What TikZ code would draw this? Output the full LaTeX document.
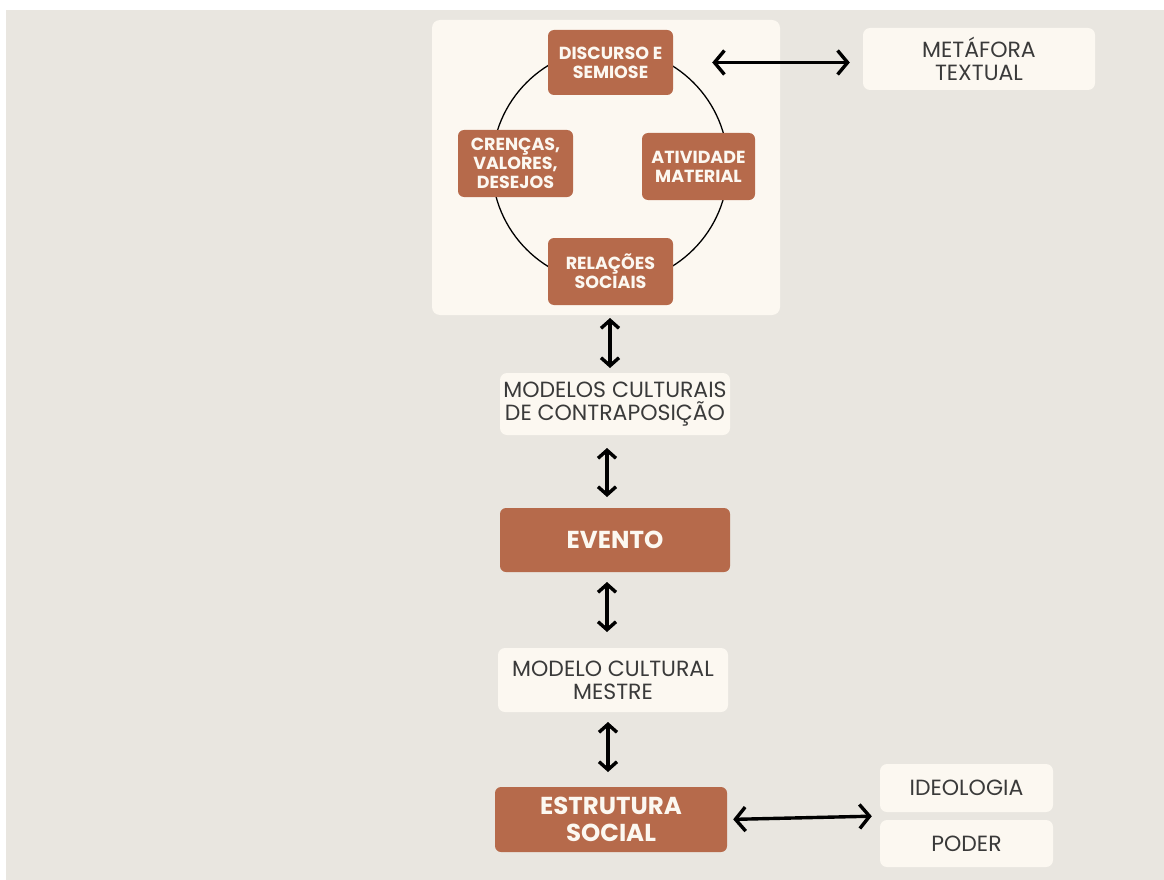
\documentclass[tikz,border=0pt]{standalone}
\usepackage{fontspec}
\setmainfont{Poppins}
\usetikzlibrary{arrows.meta,calc}
\definecolor{paper}{HTML}{E9E6E0}
\definecolor{cream}{HTML}{FCF8F1}
\definecolor{clay}{HTML}{B66A4B}
\definecolor{ink}{HTML}{3A3A3A}
\tikzset{
 panel/.style={fill=cream,rounded corners=8pt},
 claybox/.style={fill=clay,rounded corners=6pt,text=cream,align=center,inner sep=0,font=\bfseries\fontsize{17.5}{19}\selectfont},
 bigclay/.style={claybox,font=\bfseries\fontsize{24.5}{27}\selectfont},
 creambox/.style={fill=cream,rounded corners=7pt,text=ink,align=center,inner sep=0,font=\fontsize{22}{23}\selectfont},
 link/.style={line width=3.4pt,{Straight Barb[length=10pt,width=24pt]}-{Straight Barb[length=10pt,width=24pt]}},
 uplink/.style={line width=3.4pt,{Straight Barb[length=8pt,width=18pt]}-{Straight Barb[length=8pt,width=18pt]}},
 cycle/.style={line width=1.3pt}
}
\begin{document}
\begin{tikzpicture}[x=1pt,y=-1pt]
\path[use as bounding box,fill=white] (0,0) rectangle (1164,880);
\fill[paper] (6,10) rectangle (1164,880);
% upper panel with the cycle
\node[panel,minimum width=348pt,minimum height=295pt] (top) at (606,167.5) {};
\draw[cycle] (610,166) circle[radius=118];
\node[claybox,minimum width=125pt,minimum height=65pt] (disc) at (610.5,62.5) {DISCURSO E\\SEMIOSE};
\node[claybox,minimum width=115pt,minimum height=67pt] (cren) at (515.5,163.5) {CRENÇAS,\\VALORES,\\DESEJOS};
\node[claybox,minimum width=113pt,minimum height=67pt] (ativ) at (698.5,166.5) {ATIVIDADE\\MATERIAL};
\node[claybox,minimum width=125pt,minimum height=67pt] (rel) at (610.5,271.5) {RELAÇÕES\\SOCIAIS};
\node[creambox,minimum width=232pt,minimum height=62pt] (meta) at (979,59) {METÁFORA\\TEXTUAL};
% column
\node[creambox,minimum width=230pt,minimum height=62pt] (contra) at (615,404) {MODELOS CULTURAIS\\DE CONTRAPOSIÇÃO};
\node[bigclay,minimum width=230pt,minimum height=64pt] (evento) at (615,540) {EVENTO};
\node[creambox,minimum width=230pt,minimum height=64pt] (mestre) at (613,680) {MODELO CULTURAL\\MESTRE};
\node[bigclay,minimum width=232pt,minimum height=65pt] (estr) at (611,819.5) {ESTRUTURA\\SOCIAL};
\node[creambox,minimum width=173pt,minimum height=48pt] (ideo) at (966.5,788) {IDEOLOGIA};
\node[creambox,minimum width=173pt,minimum height=47pt] (poder) at (966.5,843.5) {PODER};
\coordinate (ip) at ($(ideo.south west)!.5!(poder.north west)$);
% arrows
\draw[link,shorten <=39pt,shorten >=13pt] (disc.east) -- (meta.west|-disc.east);
\draw[uplink,shorten <=3pt,shorten >=5pt] (610,315) -- (610,373);
\draw[uplink,shorten <=13pt,shorten >=11pt] (607,435) -- (607,508);
\draw[uplink,shorten <=10pt,shorten >=16pt] (607,572) -- (607,648);
\draw[uplink,shorten <=10pt,shorten >=15pt] (608,712) -- (608,787);
\draw[link,shorten <=6pt,shorten >=8pt] (estr.east) -- (ip);
\end{tikzpicture}
\end{document}
